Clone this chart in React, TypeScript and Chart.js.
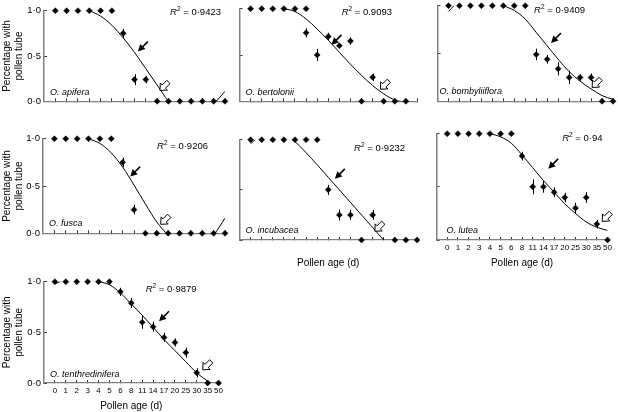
import React, { useEffect, useRef } from 'react';
import { Chart, registerables } from 'chart.js';

Chart.register(...registerables);

const FONT = '"Liberation Sans", Arial, Helvetica, sans-serif';

// x categories (pollen age, days) and y ticks
const ageLabels = ['0', '1', '2', '3', '4', '5', '6', '8', '11', '14', '17', '20', '25', '30', '35', '50'];
const ageIndex = ageLabels.map((_, i) => i);
const yTicks = [0, 0.5, 1];

// O. apifera
const apiferaPos = ageIndex;
const apiferaMean = [1, 1, 1, 1, 1, 1, 0.75, 0.24, 0.24, 0, 0, 0, 0, 0, 0, 0];
const apiferaErr = [0, 0, 0, 0, 0, 0, 0.05, 0.06, 0.04, 0, 0, 0, 0, 0, 0, 0];
const apiferaFit = [1.08, 1.07, 1.04, 1.0, 0.94, 0.84, 0.7, 0.54, 0.36, 0.18, 0.0, -0.12, -0.17, -0.14, -0.03, 0.11];

// O. bertolonii
const bertoloniiPos = [0, 1, 2, 3, 4, 5, 5, 6, 7, 8, 9, 10, 11, 12, 13, 14];
const bertoloniiMean = [1, 1, 1, 1, 1, 1, 0.74, 0.5, 0.7, 0.6, 0.65, 0, 0.26, 0, 0, 0];
const bertoloniiErr = [0, 0, 0, 0, 0, 0, 0.05, 0.065, 0.04, 0.02, 0.04, 0, 0.04, 0, 0, 0];
const bertoloniiFit = [1.06, 1.05, 1.03, 1.0, 0.97, 0.89, 0.78, 0.66, 0.53, 0.4, 0.28, 0.17, 0.08, 0.015, -0.01, -0.02];

// O. bombyliiflora
const bombyliifloraPos = ageIndex;
const bombyliifloraMean = [1, 1, 1, 1, 1, 1, 1, 1, 0.49, 0.44, 0.34, 0.25, 0.25, 0.25, 0, 0];
const bombyliifloraErr = [0, 0, 0, 0, 0, 0, 0, 0, 0.06, 0.045, 0.07, 0.07, 0.035, 0.04, 0, 0];
const bombyliifloraFit = [0.94, 1.05, 1.08, 1.08, 1.05, 1.0, 0.95, 0.86, 0.72, 0.58, 0.44, 0.31, 0.21, 0.13, 0.06, 0.02];

// O. fusca
const fuscaPos = ageIndex;
const fuscaMean = [1, 1, 1, 1, 1, 1, 0.75, 0.25, 0, 0, 0, 0, 0, 0, 0, 0];
const fuscaErr = [0, 0, 0, 0, 0, 0, 0.05, 0.05, 0, 0, 0, 0, 0, 0, 0, 0];
const fuscaFit = [1.08, 1.07, 1.04, 1.0, 0.95, 0.85, 0.7, 0.51, 0.31, 0.12, -0.02, -0.13, -0.17, -0.14, -0.02, 0.16];

// O. incubacea
const incubaceaPos = ageIndex;
const incubaceaMean = [1, 1, 1, 1, 1, 1, 1, 0.5, 0.25, 0.25, 0, 0.25, null, 0, 0, 0];
const incubaceaErr = [0, 0, 0, 0, 0, 0, 0, 0.05, 0.055, 0.05, 0, 0.05, 0, 0, 0, 0];
const incubaceaFit = [0.96, 1.05, 1.07, 1.05, 0.98, 0.87, 0.75, 0.625, 0.5, 0.375, 0.25, 0.125, 0.0, -0.1, -0.14, -0.12];

// O. lutea
const luteaPos = ageIndex;
const luteaMean = [1, 1, 1, 1, 1, 1, 1, 0.79, 0.5, 0.5, 0.45, 0.4, 0.3, 0.4, 0.15, 0];
const luteaErr = [0, 0, 0, 0, 0, 0, 0, 0.04, 0.07, 0.055, 0.045, 0.045, 0.05, 0.05, 0.04, 0];
const luteaFit = [1.1, 1.08, 1.05, 1.02, 1.0, 0.97, 0.91, 0.8, 0.68, 0.56, 0.45, 0.34, 0.25, 0.17, 0.12, 0.09];

// O. tenthredinifera
const tenthrediniferaPos = ageIndex;
const tenthrediniferaMean = [1, 1, 1, 1, 1, 1, 0.9, 0.79, 0.6, 0.555, 0.45, 0.4, 0.3, 0.1, 0, 0];
const tenthrediniferaErr = [0, 0, 0, 0, 0, 0, 0.04, 0.05, 0.065, 0.05, 0.045, 0.04, 0.05, 0.045, 0, 0];
const tenthrediniferaFit = [0.98, 1.02, 1.03, 1.02, 1.0, 0.97, 0.89, 0.78, 0.67, 0.55, 0.43, 0.32, 0.21, 0.1, 0.02, -0.06];

// annotation anchors (category index, proportion): [solid arrow tip, open arrow tip]
const apiferaArrows = [[7.3, 0.55], [9.25, 0.12]];
const bertoloniiArrows = [[7.3, 0.61], [11.7, 0.13]];
const bombyliifloraArrows = [[9.35, 0.61], [13.1, 0.145]];
const fuscaArrows = [[6.67, 0.6], [9.35, 0.095]];
const incubaceaArrows = [[7.6, 0.61], [11.2, 0.087]];
const luteaArrows = [[9.45, 0.67], [14.5, 0.175]];
const tenthrediniferaArrows = [[9.55, 0.61], [13.55, 0.13]];

type Panel = {
  name: string;
  r2: string;
  pos: number[];
  mean: (number | null)[];
  err: number[];
  fit: number[];
  arrows: number[][];
  area: { l: number; t: number; r: number; b: number };
  yText: boolean;
  xLabels: boolean;
  xTitle: boolean;
  r2At: [number, number];
  nameAt: [number, number];
};

const panels: Panel[] = [
  { name: 'O. apifera', r2: '0·9423', pos: apiferaPos, mean: apiferaMean, err: apiferaErr, fit: apiferaFit, arrows: apiferaArrows,
    area: { l: 44, t: 7, r: 226, b: 108 }, yText: true, xLabels: false, xTitle: false, r2At: [4, 2], nameAt: [6, -9] },
  { name: 'O. bertolonii', r2: '0.9093', pos: bertoloniiPos, mean: bertoloniiMean, err: bertoloniiErr, fit: bertoloniiFit, arrows: bertoloniiArrows,
    area: { l: 239, t: 5, r: 418, b: 108 }, yText: false, xLabels: false, xTitle: false, r2At: [25, 4], nameAt: [6, -9] },
  { name: 'O. bombyliiflora', r2: '0·9409', pos: bombyliifloraPos, mean: bombyliifloraMean, err: bombyliifloraErr, fit: bombyliifloraFit, arrows: bombyliifloraArrows,
    area: { l: 437, t: 2, r: 614, b: 108 }, yText: false, xLabels: false, xTitle: false, r2At: [28, 5], nameAt: [2, -10] },
  { name: 'O. fusca', r2: '0·9206', pos: fuscaPos, mean: fuscaMean, err: fuscaErr, fit: fuscaFit, arrows: fuscaArrows,
    area: { l: 43, t: 135, r: 226, b: 240 }, yText: true, xLabels: false, xTitle: false, r2At: [17, 8], nameAt: [6, -10] },
  { name: 'O. incubacea', r2: '0·9232', pos: incubaceaPos, mean: incubaceaMean, err: incubaceaErr, fit: incubaceaFit, arrows: incubaceaArrows,
    area: { l: 239, t: 136, r: 418, b: 240 }, yText: false, xLabels: false, xTitle: true, r2At: [12, 9], nameAt: [6, -10] },
  { name: 'O. lutea', r2: '0·94', pos: luteaPos, mean: luteaMean, err: luteaErr, fit: luteaFit, arrows: luteaArrows,
    area: { l: 436, t: 130, r: 613, b: 240 }, yText: false, xLabels: true, xTitle: true, r2At: [5, 5], nameAt: [10, -10] },
  { name: 'O. tenthredinifera', r2: '0·9879', pos: tenthrediniferaPos, mean: tenthrediniferaMean, err: tenthrediniferaErr, fit: tenthrediniferaFit, arrows: tenthrediniferaArrows,
    area: { l: 44, t: 278, r: 224, b: 383 }, yText: true, xLabels: true, xTitle: true, r2At: [22, 8], nameAt: [6, -9] },
];

const PT = 8;
const PR = 5;

function geom(p: Panel) {
  const wy = p.yText ? p.area.l : 4;
  const hx = p.xLabels || p.xTitle ? 29 : 5;
  const x = p.area.l - wy;
  const y = p.area.t - PT;
  const w = p.area.r + PR - x;
  const h = p.area.b + hx - y;
  return { wy, hx, x, y, w, h };
}

function drawSolidArrow(ctx: CanvasRenderingContext2D, tx: number, ty: number) {
  const d = Math.SQRT1_2;
  const dx = -d, dy = d; // pointing down-left
  const nx = d, ny = d;
  const len = 14, hl = 7, hw = 3.6;
  const sx = tx - dx * len, sy = ty - dy * len;
  const bx = tx - dx * hl, by = ty - dy * hl;
  ctx.save();
  ctx.strokeStyle = '#000';
  ctx.fillStyle = '#000';
  ctx.lineWidth = 1.6;
  ctx.beginPath();
  ctx.moveTo(sx, sy);
  ctx.lineTo(bx + dx * 1, by + dy * 1);
  ctx.stroke();
  ctx.beginPath();
  ctx.moveTo(tx, ty);
  ctx.lineTo(bx + nx * hw, by + ny * hw);
  ctx.lineTo(bx - nx * hw, by - ny * hw);
  ctx.closePath();
  ctx.fill();
  ctx.restore();
}

function drawOpenArrow(ctx: CanvasRenderingContext2D, tx: number, ty: number) {
  const d = Math.SQRT1_2;
  const dx = -d, dy = d;
  const nx = d, ny = d;
  const hl = 5.5, hw = 5, sw = 2.3, sl = 6.5;
  const bx = tx - dx * hl, by = ty - dy * hl;
  const ex = bx - dx * sl, ey = by - dy * sl;
  ctx.save();
  ctx.strokeStyle = '#000';
  ctx.fillStyle = '#fff';
  ctx.lineWidth = 1;
  ctx.beginPath();
  ctx.moveTo(tx, ty);
  ctx.lineTo(bx + nx * hw, by + ny * hw);
  ctx.lineTo(bx + nx * sw, by + ny * sw);
  ctx.lineTo(ex + nx * sw, ey + ny * sw);
  ctx.lineTo(ex - nx * sw, ey - ny * sw);
  ctx.lineTo(bx - nx * sw, by - ny * sw);
  ctx.lineTo(bx - nx * hw, by - ny * hw);
  ctx.closePath();
  ctx.fill();
  ctx.stroke();
  ctx.restore();
}

function makeChart(canvas: HTMLCanvasElement, p: Panel) {
  const g = geom(p);
  const tickColor = '#333';
  const annot = {
    id: 'annot',
    beforeDatasetsDraw(chart: any) {
      const { ctx, scales } = chart;
      const x = scales.x, y = scales.y;
      ctx.save();
      ctx.strokeStyle = '#000';
      ctx.lineWidth = 1;
      p.pos.forEach((xi, k) => {
        const m = p.mean[k];
        const e = p.err[k];
        if (m == null || !e) return;
        const px = Math.round(x.getPixelForValue(xi)) + 0.5;
        ctx.beginPath();
        ctx.moveTo(px, y.getPixelForValue(m - e));
        ctx.lineTo(px, y.getPixelForValue(m + e));
        ctx.stroke();
      });
      ctx.restore();
    },
    afterDraw(chart: any) {
      const { ctx, scales, chartArea } = chart;
      const x = scales.x, y = scales.y;
      const [solid, open] = p.arrows;
      drawSolidArrow(ctx, x.getPixelForValue(solid[0]), y.getPixelForValue(solid[1]));
      drawOpenArrow(ctx, x.getPixelForValue(open[0]), y.getPixelForValue(open[1]));

      ctx.save();
      ctx.fillStyle = '#000';
      ctx.textBaseline = 'middle';
      // R² label
      const xr = chartArea.right - p.r2At[0];
      const yr = chartArea.top + p.r2At[1];
      ctx.font = `9.5px ${FONT}`;
      const rest = ' = ' + p.r2;
      const wRest = ctx.measureText(rest).width;
      ctx.font = `6.5px ${FONT}`;
      const wSup = ctx.measureText('2').width;
      ctx.font = `italic 9.5px ${FONT}`;
      const wR = ctx.measureText('R').width;
      ctx.textAlign = 'left';
      ctx.fillText('R', xr - wRest - wSup - wR, yr);
      ctx.font = `6.5px ${FONT}`;
      ctx.fillText('2', xr - wRest - wSup, yr - 3);
      ctx.font = `9.5px ${FONT}`;
      ctx.fillText(rest, xr - wRest, yr);
      // species name
      ctx.font = `italic 9px ${FONT}`;
      ctx.fillText(p.name, chartArea.left + p.nameAt[0], chartArea.bottom + p.nameAt[1]);
      ctx.restore();
    },
  };

  return new Chart(canvas, {
    type: 'scatter',
    data: {
      datasets: [
        {
          type: 'line',
          data: p.fit.map((v, i) => ({ x: ageIndex[i], y: v })),
          borderColor: '#000',
          borderWidth: 1,
          pointRadius: 0,
          fill: false,
          cubicInterpolationMode: 'monotone',
        } as any,
        {
          type: 'scatter',
          data: p.pos
            .map((xi, k) => ({ x: xi, y: p.mean[k] }))
            .filter((d) => d.y != null),
          pointStyle: 'rectRot',
          pointRadius: 3,
          backgroundColor: '#000',
          borderColor: '#000',
          borderWidth: 0.5,
          clip: false,
        } as any,
      ],
    },
    options: {
      responsive: false,
      animation: false,
      devicePixelRatio: 1,
      events: [],
      layout: { padding: { top: PT, right: PR, left: 0, bottom: 0 } },
      elements: { line: { capBezierPoints: false } },
      plugins: { legend: { display: false }, tooltip: { enabled: false } },
      scales: {
        x: {
          type: 'linear',
          min: -1,
          max: 15,
          afterBuildTicks: (s: any) => {
            s.ticks = ageIndex.map((v) => ({ value: v }));
          },
          afterFit: (s: any) => {
            s.height = g.hx;
          },
          ticks: {
            autoSkip: false,
            maxRotation: 0,
            padding: 6,
            color: '#000',
            font: { size: 8, family: FONT },
            callback: (v: any) => (p.xLabels ? ageLabels[v] ?? '' : ''),
          },
          grid: { display: true, drawOnChartArea: false, drawTicks: true, tickLength: -3, color: tickColor, lineWidth: 1 },
          border: { display: true, color: '#808080', width: 1.3 },
          title: {
            display: p.xTitle,
            text: 'Pollen age (d)',
            color: '#000',
            font: { size: 10, family: FONT },
            padding: { top: 0, bottom: 0 },
          },
        },
        y: {
          type: 'linear',
          min: 0,
          max: 1,
          afterBuildTicks: (s: any) => {
            s.ticks = yTicks.map((v) => ({ value: v }));
          },
          afterFit: (s: any) => {
            s.width = g.wy;
          },
          ticks: {
            padding: 6,
            color: '#000',
            font: { size: 9.5, family: FONT },
            callback: (v: any) => (p.yText ? Number(v).toFixed(1).replace('.', '·') : ''),
          },
          grid: { display: true, drawOnChartArea: false, drawTicks: true, tickLength: -3, color: tickColor, lineWidth: 1 },
          border: { display: true, color: '#808080', width: 1.5 },
          title: {
            display: p.yText,
            text: ['Percentage with', 'pollen tube'],
            color: '#000',
            font: { size: 10, family: FONT },
            padding: { top: 1, bottom: 0 },
          },
        },
      },
    } as any,
    plugins: [annot],
  });
}

export default function App() {
  const refs = useRef<(HTMLCanvasElement | null)[]>([]);
  useEffect(() => {
    const charts = panels.map((p, i) => makeChart(refs.current[i] as HTMLCanvasElement, p));
    return () => charts.forEach((c) => c.destroy());
  }, []);
  return (
    <div style={{ position: 'absolute', left: 0, top: 0, width: 618, height: 412, overflow: 'hidden', background: '#fff' }}>
      {panels.map((p, i) => {
        const g = geom(p);
        return (
          <canvas
            key={p.name}
            ref={(el) => {
              refs.current[i] = el;
            }}
            width={g.w}
            height={g.h}
            style={{ position: 'absolute', left: g.x, top: g.y, width: g.w, height: g.h }}
          />
        );
      })}
    </div>
  );
}
